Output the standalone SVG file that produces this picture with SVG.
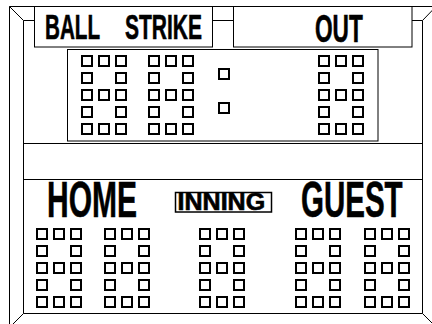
<svg xmlns="http://www.w3.org/2000/svg" xmlns:xlink="http://www.w3.org/1999/xlink" width="432" height="324" viewBox="0 0 432 324">
<style>
.ln{fill:none;stroke:#000;stroke-width:1}
.sq{fill:#fff;stroke:#000;stroke-width:2}
.lb{font-family:"Liberation Sans","DejaVu Sans",sans-serif;font-weight:bold;fill:#000;stroke:#000;stroke-width:0.6}
</style>
<defs>
<g id="d8">
<rect class="sq" x="1" y="1" width="10" height="10"/>
<rect class="sq" x="18" y="1" width="10" height="10"/>
<rect class="sq" x="35" y="1" width="10" height="10"/>
<rect class="sq" x="1" y="18" width="10" height="10"/>
<rect class="sq" x="35" y="18" width="10" height="10"/>
<rect class="sq" x="1" y="35" width="10" height="10"/>
<rect class="sq" x="18" y="35" width="10" height="10"/>
<rect class="sq" x="35" y="35" width="10" height="10"/>
<rect class="sq" x="1" y="52" width="10" height="10"/>
<rect class="sq" x="35" y="52" width="10" height="10"/>
<rect class="sq" x="1" y="69" width="10" height="10"/>
<rect class="sq" x="18" y="69" width="10" height="10"/>
<rect class="sq" x="35" y="69" width="10" height="10"/>
</g>
</defs>
<rect width="432" height="324" fill="#fff"/>
<g id="frame">
<path class="ln" d="M9.5,340 V6.5 H440"/>
<path class="ln" d="M9.5,6.5 L23.5,20.5 M422.5,20.5 L436,6.5 M23.5,313.5 L9.5,327.5 M422.5,313.5 L436,327"/>
<path class="ln" d="M34,20.5 H23.5 V313.5 H422.5 V20.5 H412 M212,20.5 H233"/>
</g>
<g id="ball-strike">
<rect class="ln" x="34.5" y="6.5" width="178" height="40.5"/>
<text class="lb" transform="translate(45,39) scale(0.59,1)" font-size="35">BALL</text>
<text class="lb" transform="translate(125,39) scale(0.6,1)" font-size="35">STRIKE</text>
</g>
<g id="out">
<rect class="ln" x="233.5" y="6.5" width="178.5" height="40.5"/>
<text class="lb" transform="translate(315,42) scale(0.58,1)" font-size="39">OUT</text>
</g>
<g id="count-panel">
<rect class="ln" x="67.5" y="49.5" width="310.5" height="91.5"/>
<use xlink:href="#d8" x="81" y="55"/>
<use xlink:href="#d8" x="148" y="55"/>
<rect class="sq" x="219" y="69" width="10" height="10"/>
<rect class="sq" x="219" y="103" width="10" height="10"/>
<use xlink:href="#d8" x="318" y="55"/>
</g>
<g id="band">
<path class="ln" d="M23.5,143.5 H422.5 M23.5,179.5 H422.5"/>
</g>
<g id="home">
<text class="lb" transform="translate(47,217) scale(0.6,1)" font-size="50">HOME</text>
<use xlink:href="#d8" x="36" y="228"/>
<use xlink:href="#d8" x="104" y="228"/>
</g>
<g id="inning">
<rect x="175.5" y="192.5" width="96" height="19.5" fill="none" stroke="#000" stroke-width="1.5"/>
<text class="lb" transform="translate(177.5,210) scale(1.09,1)" font-size="23">INNING</text>
<use xlink:href="#d8" x="199" y="228"/>
</g>
<g id="guest">
<text class="lb" transform="translate(301,217) scale(0.59,1)" font-size="50">GUEST</text>
<use xlink:href="#d8" x="295" y="228"/>
<use xlink:href="#d8" x="364" y="228"/>
</g>
</svg>
